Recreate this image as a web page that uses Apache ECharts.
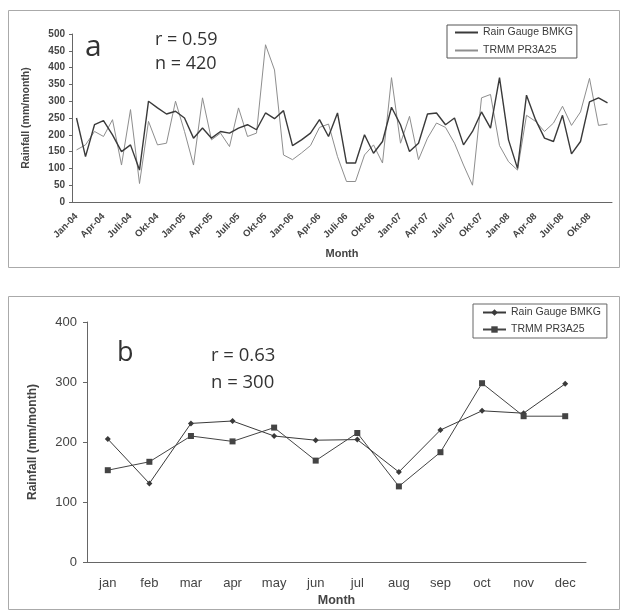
<!DOCTYPE html>
<html>
<head>
<meta charset="utf-8">
<script src="https://cdn.jsdelivr.net/npm/echarts@6/dist/echarts.min.js"></script>
<style>
html, body { margin: 0; padding: 0; background: #fff; }
#main { width: 624px; height: 612px; }
</style>
</head>
<body>
<div id="main"></div>
<script>
// panel a: monthly series Jan-04 .. Des-08
const bulan = ['Jan', 'Feb', 'Mar', 'Apr', 'Mei', 'Jun', 'Juli', 'Agu', 'Sep', 'Okt', 'Nov', 'Des'];
const tahun = ['04', '05', '06', '07', '08'];
const gaugeMonthly = [
  250, 135, 230, 242, 200, 150, 170, 95, 300, 280, 262, 270,
  250, 190, 220, 190, 210, 205, 220, 230, 215, 265, 248, 272,
  168, 185, 205, 245, 195, 265, 116, 116, 200, 145, 180, 282,
  230, 150, 175, 262, 265, 230, 250, 170, 210, 268, 220, 370,
  185, 100, 318, 245, 190, 180, 258, 143, 180, 298, 310, 295
];
const trmmMonthly = [
  155, 170, 210, 195, 245, 110, 275, 55, 240, 170, 175, 300,
  210, 110, 310, 185, 205, 165, 280, 195, 205, 468, 393, 140,
  126, 146, 168, 222, 232, 135, 61, 61, 140, 170, 116, 370,
  175, 255, 126, 190, 235, 222, 175, 110, 50, 310, 320, 168,
  120, 95, 258, 240, 210, 235, 285, 228, 268, 368, 228, 232
];

// panel b: mean per calendar month
const bulanB = ['jan', 'feb', 'mar', 'apr', 'may', 'jun', 'jul', 'aug', 'sep', 'oct', 'nov', 'dec'];
const gaugeMean = [205, 131, 231, 235, 210, 203, 204, 150, 220, 252, 248, 297];
const trmmMean = [153, 167, 210, 201, 224, 169, 215, 126, 183, 298, 243, 243];

const labelsA = [];
tahun.forEach(function (t) {
  bulan.forEach(function (b) { labelsA.push(b + '-' + t); });
});

const chart = echarts.init(document.getElementById('main'), null, { renderer: 'canvas' });

const axisGrey = '#666';
const txt = '#3a3a3a';
const fontA = 'Liberation Sans, Arial, sans-serif';
const fontNote = 'Open Sans, Noto Sans, sans-serif';

const option = {
  animation: false,
  backgroundColor: '#fff',
  textStyle: { fontFamily: fontA },
  grid: [
    { left: 72, top: 34, width: 540, height: 168 },
    { left: 87, top: 322, width: 499, height: 240 }
  ],
  legend: [{
    data: ['Rain Gauge BMKG', 'TRMM PR3A25'],
    orient: 'vertical',
    left: 447,
    top: 25,
    padding: [2, 4, 2, 7],
    itemGap: 7,
    itemWidth: 23,
    itemHeight: 8,
    selectedMode: false,
    borderColor: '#555',
    borderWidth: 1,
    borderRadius: 0,
    itemStyle: { opacity: 0 },
    textStyle: { fontSize: 10.5, color: txt, fontFamily: fontA }
  }, {
    data: ['Rain Gauge BMKG (b)', 'TRMM PR3A25 (b)'],
    formatter: function (n) { return n.replace(' (b)', ''); },
    orient: 'vertical',
    left: 473,
    top: 304,
    padding: [3, 6, 3, 9],
    itemGap: 6,
    itemWidth: 23,
    itemHeight: 8,
    selectedMode: false,
    borderColor: '#666',
    borderWidth: 1,
    borderRadius: 0,
    textStyle: { fontSize: 10.5, color: txt, fontFamily: fontA }
  }],
  xAxis: [{
    type: 'category',
    gridIndex: 0,
    data: labelsA,
    boundaryGap: true,
    axisLine: { lineStyle: { color: axisGrey } },
    axisTick: { interval: 0, length: 3, lineStyle: { color: axisGrey } },
    axisLabel: { interval: 2, rotate: 45, fontSize: 9.5, fontWeight: 'bold', color: '#444', margin: 13 },
    name: 'Month',
    nameLocation: 'middle',
    nameGap: 46,
    nameTextStyle: { fontSize: 11, fontWeight: 'bold', color: '#444' }
  }, {
    type: 'category',
    gridIndex: 1,
    data: bulanB,
    boundaryGap: true,
    axisLine: { lineStyle: { color: axisGrey } },
    axisTick: { interval: 0, length: 4, lineStyle: { color: axisGrey } },
    axisLabel: { fontSize: 13, color: '#444', margin: 15 },
    name: 'Month',
    nameLocation: 'middle',
    nameGap: 32,
    nameTextStyle: { fontSize: 12.5, fontWeight: 'bold', color: '#444' }
  }],
  yAxis: [{
    type: 'value',
    gridIndex: 0,
    min: 0,
    max: 500,
    interval: 50,
    axisLine: { show: true, lineStyle: { color: axisGrey } },
    axisTick: { show: true, length: 3, lineStyle: { color: axisGrey } },
    axisLabel: { fontSize: 10, fontWeight: 'bold', color: '#444', margin: 7 },
    splitLine: { show: false },
    name: 'Rainfall (mm/month)',
    nameLocation: 'middle',
    nameGap: 40,
    nameTextStyle: { fontSize: 10.5, fontWeight: 'bold', color: '#444' }
  }, {
    type: 'value',
    gridIndex: 1,
    min: 0,
    max: 400,
    interval: 100,
    axisLine: { show: true, lineStyle: { color: axisGrey } },
    axisTick: { show: true, length: 4, lineStyle: { color: axisGrey } },
    axisLabel: { fontSize: 13, color: '#444', margin: 10 },
    splitLine: { show: false },
    name: 'Rainfall (mm/month)',
    nameLocation: 'middle',
    nameGap: 48,
    nameTextStyle: { fontSize: 12, fontWeight: 'bold', color: '#444' }
  }],
  series: [{
    name: 'TRMM PR3A25',
    type: 'line',
    xAxisIndex: 0,
    yAxisIndex: 0,
    data: trmmMonthly,
    symbol: 'none',
    lineStyle: { color: '#8e8e8e', width: 1 },
    itemStyle: { color: '#8e8e8e' }
  }, {
    name: 'Rain Gauge BMKG',
    type: 'line',
    xAxisIndex: 0,
    yAxisIndex: 0,
    data: gaugeMonthly,
    symbol: 'none',
    lineStyle: { color: '#3a3a3a', width: 1.4 },
    itemStyle: { color: '#3a3a3a' }
  }, {
    name: 'Rain Gauge BMKG (b)',
    type: 'line',
    xAxisIndex: 1,
    yAxisIndex: 1,
    data: gaugeMean,
    symbol: 'diamond',
    symbolSize: 6,
    lineStyle: { color: '#3a3a3a', width: 1 },
    itemStyle: { color: '#3a3a3a' }
  }, {
    name: 'TRMM PR3A25 (b)',
    type: 'line',
    xAxisIndex: 1,
    yAxisIndex: 1,
    data: trmmMean,
    symbol: 'rect',
    symbolSize: 6,
    lineStyle: { color: '#444', width: 1 },
    itemStyle: { color: '#444' }
  }],
  graphic: [
    // panel frames
    { type: 'rect', shape: { x: 8.5, y: 10.5, width: 611, height: 257 }, style: { fill: 'none', stroke: '#aaa', lineWidth: 1 }, silent: true },
    { type: 'rect', shape: { x: 8.5, y: 296.5, width: 611, height: 313 }, style: { fill: 'none', stroke: '#aaa', lineWidth: 1 }, silent: true },
    // annotations
    { type: 'text', style: { x: 85, y: 47, text: 'a', font: '30px ' + fontNote, fill: '#333', verticalAlign: 'middle' } },
    { type: 'text', style: { x: 155, y: 40, text: 'r = 0.59', font: '18px ' + fontNote, fill: '#333', verticalAlign: 'middle' } },
    { type: 'text', style: { x: 155, y: 64, text: 'n = 420', font: '18px ' + fontNote, fill: '#333', verticalAlign: 'middle' } },
    { type: 'text', style: { x: 117, y: 353, text: 'b', font: '27px ' + fontNote, fill: '#333', verticalAlign: 'middle' } },
    { type: 'text', style: { x: 211, y: 356, text: 'r = 0.63', font: '18.5px ' + fontNote, fill: '#333', verticalAlign: 'middle' } },
    { type: 'text', style: { x: 211, y: 383, text: 'n = 300', font: '18.5px ' + fontNote, fill: '#333', verticalAlign: 'middle' } }
  ]
};

chart.setOption(option);
</script>
</body>
</html>
